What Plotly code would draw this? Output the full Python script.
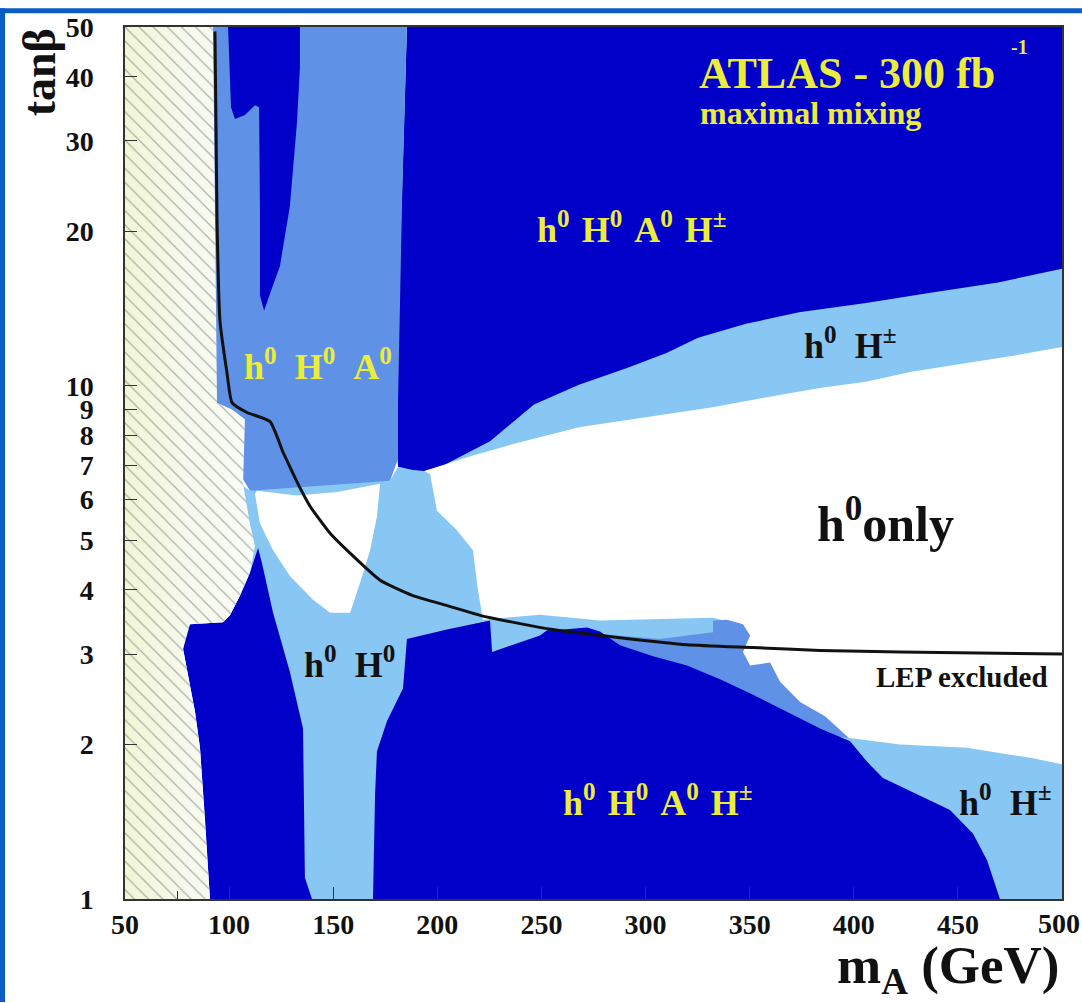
import numpy as np
import plotly.graph_objects as go

# ---------------- data (mA in GeV, tan beta) ----------------
x_ticks = [50, 100, 150, 200, 250, 300, 350, 400, 450, 500]
y_ticks = [1, 2, 3, 4, 5, 6, 7, 8, 9, 10, 20, 30, 40, 50]

# upper light-blue band (h0 H+-)
lb_up_mA = [188.3, 193.6, 214.7, 235.9, 268.0, 299.7, 331.4, 356.9, 384.3, 405.9, 427.0, 448.1, 479.8, 500, 500, 191.7]
lb_up_tb = [6.82, 6.82, 7.26, 7.69, 8.30, 8.68, 9.07, 9.48, 9.91, 10.18, 10.64, 10.98, 11.5, 11.9, 22.4, 22.4]

# upper dark region (h0 H0 A0 H+-)
dk_top_mA = [185.4, 500, 500, 469.3, 437.6, 405.9, 373.7, 348.2, 325.2, 310.3, 291.1, 268.0, 246.4, 225.3, 204.2, 193.6, 188.3, 181.1, 179.7, 182.1]
dk_top_tb = [50, 50, 16.9, 15.9, 15.2, 14.5, 13.9, 13.2, 12.4, 11.6, 10.83, 10.04, 9.19, 7.80, 7.04, 6.82, 6.82, 6.95, 9.19, 17.9]

# medium-blue upper-left region (h0 H0 A0)
mb_ul_mA = [88.4, 185.4, 183.0, 181.1, 181.1, 177.3, 151.8, 132.6, 110.0, 105.2, 88.4]
mb_ul_tb = [50, 50, 22.4, 9.19, 7.20, 6.53, 6.24, 6.16, 6.24, 6.73, 6.73]

# dark sliver inside the upper-left region
dk_sl_mA = [99.5, 134.0, 134.0, 132.6, 129.2, 124.4, 120.6, 116.8, 114.8, 114.8, 114.4, 112.4, 107.6, 102.8, 100.9]
dk_sl_tb = [50, 50, 41.7, 32.6, 22.4, 17.1, 15.5, 14.0, 15.0, 22.4, 34.9, 35.2, 33.7, 33.1, 34.9]

# light-blue middle region (h0 H0)
lb_mid_mA = [105.2, 110.0, 177.3, 181.1, 188.3, 193.6, 196.5, 199.8, 209.4, 217.1, 219.5, 221.9, 226.3, 182.1, 169.1, 105.2]
lb_mid_tb = [6.44, 6.24, 6.53, 6.95, 6.85, 6.82, 6.73, 5.71, 5.23, 4.78, 4.00, 3.50, 3.03, 2.42, 1.0, 1.0]

# white pocket (h0 only) at low mA
wh_mA = [113.4, 132.6, 151.8, 172.5, 171.0, 167.7, 162.9, 158.1, 148.5, 140.3, 129.2, 121.1, 114.8, 112.4]
wh_tb = [6.24, 6.11, 6.21, 6.44, 5.56, 4.78, 4.13, 3.61, 3.61, 3.83, 4.26, 4.78, 5.39, 6.16]

# thin light-blue strip around the LEP line
lb_st_mA = [221.9, 249.3, 278.1, 332.4, 340.6, 335.8, 278.1, 226.3]
lb_st_tb = [3.50, 3.58, 3.49, 3.53, 3.46, 3.16, 3.09, 3.03]

# medium-blue lower band
mb_lo_mA = [278.1, 306.9, 332.4, 332.4, 339.1, 346.8, 350.2, 346.8, 350.2, 359.8, 364.6, 374.2, 386.2, 398.2, 395.8, 326.2, 278.1]
mb_lo_tb = [3.28, 3.21, 3.31, 3.49, 3.50, 3.43, 3.26, 3.03, 2.85, 2.89, 2.65, 2.42, 2.27, 2.05, 1.99, 2.65, 3.03]

# light-blue lower-right region (h0 H+-)
lb_lr_mA = [393.4, 422.2, 454.4, 486.1, 500, 500, 446.2]
lb_lr_tb = [2.07, 2.00, 1.97, 1.88, 1.83, 1.0, 1.0]

# lower dark region (h0 H0 A0 H+-)
dk_lo_mA = [169.1, 170.1, 171.0, 175.8, 183.5, 185.4, 204.6, 220.5, 225.3, 226.3, 236.3, 249.3, 252.7, 260.4, 271.9, 278.1,
            287.7, 303.6, 319.9, 335.8, 351.6, 367.9, 383.8, 398.2, 406.4, 414.0, 430.4, 446.2, 457.3, 464.0, 470.2]
dk_lo_tb = [1.0, 1.60, 1.94, 2.22, 2.57, 3.21, 3.35, 3.46, 3.49, 3.03, 3.13, 3.26, 3.34, 3.35, 3.38, 3.32,
            3.12, 2.97, 2.85, 2.68, 2.50, 2.32, 2.15, 2.03, 1.85, 1.72, 1.60, 1.49, 1.34, 1.19, 1.0]

# lower-left dark region
dk_ll_mA = [81.2, 97.1, 100.4, 105.2, 110.0, 113.9, 115.8, 121.1, 129.2, 135.5, 136.4, 139.8, 90.8, 88.4, 86.0, 83.6, 77.9, 78.8]
dk_ll_tb = [3.43, 3.46, 3.57, 3.90, 4.32, 4.83, 4.51, 3.61, 2.77, 2.15, 1.10, 1.0, 1.0, 1.44, 1.97, 2.32, 3.07, 3.31]

# theoretically excluded (hatched) region
ht_mA = [50, 92.3, 93.2, 94.2, 101.4, 107.6, 106.7, 110.0, 112.4, 110.0, 105.2, 100.4, 97.1, 81.2, 77.9, 83.6, 86.0, 88.4, 90.8, 50]
ht_tb = [50, 50, 22.4, 9.27, 8.99, 8.60, 6.44, 5.39, 4.87, 4.32, 3.90, 3.57, 3.46, 3.43, 3.07, 2.32, 1.97, 1.44, 1.0, 1.0]

# LEP exclusion curve
lep_mA = [93.2, 94.2, 95.6, 99.0, 101.4, 108.6, 119.6, 125.9, 129.2, 134.0, 138.8, 148.5, 159.5, 172.5, 188.3, 204.6,
          220.5, 239.7, 255.6, 287.7, 319.9, 351.6, 383.8, 422.2, 500]
lep_tb = [49, 20.9, 13.4, 10.59, 9.27, 8.87, 8.52, 7.42, 6.95, 6.33, 5.83, 5.16, 4.66, 4.18, 3.90, 3.73,
          3.57, 3.44, 3.35, 3.23, 3.13, 3.09, 3.05, 3.03, 3.00]

# ---------------- styling ----------------
DARK = "#0000c8"
MED = "#5f91e6"
LIGHT = "#88c6f4"
YELLOW = "#ecec3a"
INK = "#111111"
SERIF = "Liberation Serif"
SP = "\u00a0"

fig = go.Figure()


def region(xs, ys, color):
    fig.add_trace(go.Scatter(x=xs, y=ys, fill="toself", fillcolor=color, mode="lines",
                             line=dict(width=0, color=color), hoverinfo="skip", showlegend=False))


region(lb_up_mA, lb_up_tb, LIGHT)
region(dk_top_mA, dk_top_tb, DARK)
region(mb_ul_mA, mb_ul_tb, MED)
region(dk_sl_mA, dk_sl_tb, DARK)
region(lb_mid_mA, lb_mid_tb, LIGHT)
region(wh_mA, wh_tb, "#ffffff")
region(lb_st_mA, lb_st_tb, LIGHT)
region(mb_lo_mA, mb_lo_tb, MED)
region(lb_lr_mA, lb_lr_tb, LIGHT)
region(dk_lo_mA, dk_lo_tb, DARK)
region(dk_ll_mA, dk_ll_tb, DARK)

# hatched region: pale gradient + diagonal hatching
fig.add_trace(go.Scatter(x=ht_mA, y=ht_tb, fill="toself", mode="lines", line=dict(width=0),
                         fillgradient=dict(type="horizontal",
                                           colorscale=[[0, "#f2f6d6"], [0.5, "#f7f9ec"], [1, "#fafcf8"]]),
                         hoverinfo="skip", showlegend=False))
fig.add_trace(go.Scatter(x=ht_mA, y=ht_tb, fill="toself", mode="lines", line=dict(width=0),
                         fillcolor="rgba(0,0,0,0)",
                         fillpattern=dict(shape="\\", fgcolor="#5d6e70", size=10, solidity=0.13, fillmode="overlay"),
                         hoverinfo="skip", showlegend=False))

# LEP curve
fig.add_trace(go.Scatter(x=lep_mA, y=lep_tb, mode="lines", line=dict(color=INK, width=3, shape="spline", smoothing=0.5),
                         hoverinfo="skip", showlegend=False))


def label(x, tb, text, size, color, **kw):
    fig.add_annotation(x=x, y=np.log10(tb), text=text, showarrow=False,
                       font=dict(family=SERIF, size=size, color=color, weight="bold"), **kw)


def hs(*parts, gap=SP * 2):
    return gap.join(parts)


NARROW = SP + "\u200a"

label(324.7, 10 ** 1.608, "ATLAS - 300 fb", 44, YELLOW, xanchor="left")
label(479.8, 10 ** 1.66, "-1", 20, YELLOW)
label(325.2, 10 ** 1.531, "maximal mixing", 32, YELLOW, xanchor="left")
label(293.5, 20.3, hs("h<sup>0</sup>", "H<sup>0</sup>", "A<sup>0</sup>", "H<sup>±</sup>", gap=NARROW), 36, YELLOW)
label(142.7, 10 ** 1.0405, hs("h<sup>0</sup>", "H<sup>0</sup>", "A<sup>0</sup>"), 36, YELLOW)
label(398.2, 10 ** 1.083, hs("h<sup>0</sup>", "H<sup>±</sup>"), 36, INK)
label(415.0, 10 ** 0.7375, "h<sup>0</sup>only", 50, INK)
label(158.0, 10 ** 0.4614, hs("h<sup>0</sup>", "H<sup>0</sup>"), 36, INK)
label(452.0, 10 ** 0.4324, "LEP excluded", 29, INK)
label(306.0, 10 ** 0.191, hs("h<sup>0</sup>", "H<sup>0</sup>", "A<sup>0</sup>", "H<sup>±</sup>", gap=NARROW), 36, YELLOW)
label(472.6, 10 ** 0.191, hs("h<sup>0</sup>", "H<sup>±</sup>"), 36, INK)

TICKFONT = dict(family=SERIF, size=28, color=INK, weight="bold")

# last x tick label, kept inside the page at the right edge
fig.add_annotation(xref="paper", yref="paper", x=1.0203, y=-0.0094, xanchor="right", yanchor="top",
                   text=str(x_ticks[-1]), showarrow=False, font=TICKFONT, borderpad=0)

# axis titles
fig.add_annotation(xref="paper", yref="paper", x=-0.0918, y=0.948, xanchor="center", yanchor="middle",
                   text="tanβ", textangle=-90, showarrow=False,
                   font=dict(family=SERIF, size=46, color=INK, weight="bold"))
fig.add_annotation(xref="paper", yref="paper", x=1.0, y=-0.0807, xanchor="right", yanchor="middle",
                   text="m<sub>A</sub> (GeV)", showarrow=False,
                   font=dict(family=SERIF, size=53, color=INK, weight="bold"))

# slide frame (blue strips at top and left)
fig.add_shape(type="rect", xref="paper", yref="paper", x0=-0.1334, x1=1.0213, y0=1.0159, y1=1.0216,
              fillcolor="#0b5cc4", line=dict(width=0), layer="below")
fig.add_shape(type="rect", xref="paper", yref="paper", x0=-0.1334, x1=-0.128, y0=-0.118, y1=1.0216,
              fillcolor="#0b5cc4", line=dict(width=0), layer="below")

axis_common = dict(showgrid=False, zeroline=False, ticks="inside", ticklen=12, tickwidth=1.2, tickcolor="#333",
                   showline=True, linecolor="#333", linewidth=1.5, mirror=True, tickfont=TICKFONT)

fig.update_xaxes(range=[50, 500], tickvals=x_ticks, ticktext=[str(v) for v in x_ticks[:-1]] + [""],
                 ticklabelstandoff=0,
                 minor=dict(tickvals=[75], ticks="inside", ticklen=8, tickcolor="#333"), **axis_common)
fig.update_yaxes(type="log", range=[0, np.log10(50)], tickvals=y_ticks, ticktext=[str(v) for v in y_ticks],
                 ticklabelstandoff=24, **axis_common)

fig.update_layout(width=1082, height=1003, margin=dict(l=125, r=20, t=19, b=104),
                  plot_bgcolor="#ffffff", paper_bgcolor="#ffffff")

fig.write_html("out.html", post_script="document.documentElement.style.overflow='hidden';"
                                       "document.body.style.margin='0';document.body.style.overflow='hidden';")
